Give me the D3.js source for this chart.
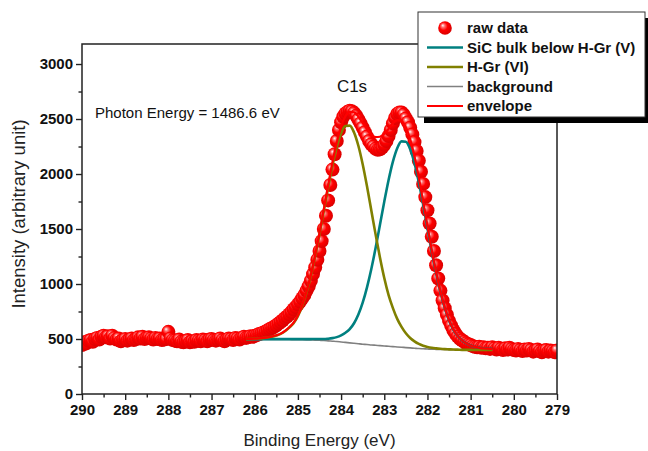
<!DOCTYPE html>
<html>
<head>
<meta charset="utf-8">
<script src="https://cdn.jsdelivr.net/npm/d3@7"></script>
<style>
  body { margin: 0; background: #fff; }
  text { font-family: "Liberation Sans", Arial, sans-serif; }
</style>
</head>
<body>
<svg id="chart" width="648" height="451"></svg>
<script>
// C1s core-level scan: 290 -> 279 eV in 0.05 eV steps
const scanStart = 290, scanStep = 0.05;
const rawCounts = [
  445,470,460,485,490,475,500,510,495,520,
  530,515,525,505,530,510,495,505,480,490,
  500,485,495,505,490,500,515,505,520,500,
  510,515,505,495,510,500,505,490,495,500,
  565,505,490,485,480,495,475,470,480,490,
  470,480,475,490,485,480,495,490,480,495,
  500,490,485,495,505,490,480,495,505,500,
  490,510,505,495,510,520,510,515,525,520,
  530,
  535,545,550,560,565,580,590,600,610,625,
  640,655,670,690,705,725,745,770,790,815,
  840,870,900,940,980,1030,1090,1150,1220,1300,
  1390,1500,1620,1760,1900,2040,2180,2300,2400,2470,
  2520,2550,2565,2575,2570,2555,2530,2495,2460,2420,
  2380,2340,2300,2270,2250,2230,2220,2225,2240,2265,
  2300,2345,2400,2460,2510,2545,2560,2560,2540,2505,
  2470,2420,2360,2290,2210,2120,2020,1910,1790,1670,
  1550,1430,1300,1170,1050,940,850,780,720,665,
  620,580,548,522,502,488,474,462,452,445,
  435,430,425,430,420,425,415,420,410,425,
  415,405,420,410,400,415,405,420,410,400,
  395,410,400,390,405,395,410,400,385,395,
  405,390,380,395,400,385,395,390,380,395
];

// Fit grid (eV) and fitted components
const fitEnergy = [
  286.2,286.1,286.0,285.9,285.8,285.7,285.6,285.5,285.4,285.3,
  285.2,285.1,285.0,284.9,284.8,284.7,284.6,284.5,284.4,284.3,
  284.2,284.1,284.0,283.9,283.8,283.7,283.6,283.5,283.4,283.3,
  283.2,283.1,283.0,282.9,282.8,282.7,282.6,282.5,282.4,282.3,
  282.2,282.1,282.0,281.9,281.8,281.7,281.6,281.5,281.4,281.3,
  281.2,281.1,281.0,280.9,280.8,280.7,280.6,280.5
];
const background = [
  497,497,497,497,497,497,496,496,496,495,
  495,494,494,493,492,491,490,488,486,483,
  480,477,473,469,465,461,457,453,450,446,
  443,440,437,434,431,428,425,422,419,416,
  413,411,409,407,406,405,404,403,402,402,
  401,401,401,400,400,400,400,400
];
// peak heights above the background
const peakHGr = [
  2,3,5,7,11,16,24,35,50,75,
  108,150,214,309,432,583,762,964,1180,1395,
  1598,1770,1898,1968,1975,1917,1800,1636,1438,1223,
  1006,801,617,465,350,255,185,130,90,62,
  42,28,19,13,9,6,4,3,2,1,
  0,0,0,0,0,0,0,0
];
const peakSiC = [
  1,1,1,2,2,2,3,3,3,4,
  4,5,5,6,7,8,10,12,14,20,
  28,40,60,88,125,182,265,377,520,691,
  886,1098,1312,1512,1682,1807,1872,1872,1807,1682,
  1512,1312,1098,886,691,520,377,265,182,125,
  88,60,40,28,20,14,12,10
];

const xTicks = [290,289,288,287,286,285,284,283,282,281,280,279];
const xMinor = [289.5,288.5,287.5,286.5,285.5,284.5,283.5,282.5,281.5,280.5,279.5];
const yTicks = [0,500,1000,1500,2000,2500,3000];
const yMinor = [250,750,1250,1750,2250,2750];

const legendItems = [
  { label: "raw data", kind: "dot", color: "#ff0000" },
  { label: "SiC bulk below H-Gr (V)", kind: "line", color: "#008080", width: 2.6 },
  { label: "H-Gr (VI)", kind: "line", color: "#808000", width: 2.6 },
  { label: "background", kind: "line", color: "#808080", width: 1.6 },
  { label: "envelope", kind: "line", color: "#ff0000", width: 2.2 }
];

const svg = d3.select("#chart");
const L = 82, R = 557, T = 44, B = 394;

const x = d3.scaleLinear().domain([290, 279]).range([L, R]);
const y = d3.scaleLinear().domain([0, 3182]).range([B, T]);

const defs = svg.append("defs");
defs.append("clipPath").attr("id", "plotClip")
  .append("rect").attr("x", L).attr("y", T).attr("width", R - L).attr("height", B - T);
const grad = defs.append("radialGradient").attr("id", "ball")
  .attr("cx", "0.45").attr("cy", "0.45").attr("r", "0.6")
  .attr("fx", "0.33").attr("fy", "0.3");
grad.append("stop").attr("offset", "0%").attr("stop-color", "#ffffff");
grad.append("stop").attr("offset", "22%").attr("stop-color", "#ff7070");
grad.append("stop").attr("offset", "50%").attr("stop-color", "#ff0000");
grad.append("stop").attr("offset", "100%").attr("stop-color", "#d40000");

// raw data
const raw = rawCounts.map((v, i) => ({ e: scanStart - i * scanStep, v }));
const plot = svg.append("g").attr("clip-path", "url(#plotClip)");
plot.selectAll("circle.raw").data(raw).join("circle")
  .attr("class", "raw")
  .attr("cx", d => x(d.e)).attr("cy", d => y(d.v)).attr("r", 7)
  .attr("fill", "url(#ball)");

// fitted curves
const fit = fitEnergy.map((e, i) => ({
  e,
  bg: background[i],
  sic: background[i] + peakSiC[i],
  hgr: background[i] + peakHGr[i],
  env: background[i] + peakSiC[i] + peakHGr[i]
}));
const line = key => d3.line().x(d => x(d.e)).y(d => y(d[key])).curve(d3.curveMonotoneX);
plot.append("path").datum(fit).attr("d", line("bg"))
  .attr("fill", "none").attr("stroke", "#808080").attr("stroke-width", 1.6);
plot.append("path").datum(fit).attr("d", line("sic"))
  .attr("fill", "none").attr("stroke", "#008080").attr("stroke-width", 2.6);
plot.append("path").datum(fit).attr("d", line("hgr"))
  .attr("fill", "none").attr("stroke", "#808000").attr("stroke-width", 2.6);
plot.append("path").datum(fit).attr("d", line("env"))
  .attr("fill", "none").attr("stroke", "#ff0000").attr("stroke-width", 2.2);

// axes
const axisColor = "#222";
svg.append("g").attr("transform", `translate(0,${B})`)
  .call(d3.axisBottom(x).tickValues(xTicks).tickSize(6).tickPadding(4).tickFormat(d3.format("d")));
svg.append("g").attr("transform", `translate(0,${B})`)
  .call(d3.axisBottom(x).tickValues(xMinor).tickSize(3.5).tickFormat(""));
svg.append("g").attr("transform", `translate(${L},0)`)
  .call(d3.axisLeft(y).tickValues(yTicks).tickSize(6).tickPadding(3).tickFormat(d3.format("d")));
svg.append("g").attr("transform", `translate(${L},0)`)
  .call(d3.axisLeft(y).tickValues(yMinor).tickSize(3.5).tickFormat(""));
svg.selectAll(".domain").remove();
svg.selectAll(".tick line").attr("stroke", axisColor).attr("stroke-width", 1.4);
svg.selectAll(".tick text")
  .attr("font-family", "'Liberation Sans', Arial, sans-serif")
  .attr("font-size", 15).attr("font-weight", "bold").attr("fill", "#111");

// frame
svg.append("rect").attr("x", L).attr("y", T).attr("width", R - L).attr("height", B - T)
  .attr("fill", "none").attr("stroke", axisColor).attr("stroke-width", 1.5);

// titles and annotations
svg.append("text").attr("x", (L + R) / 2).attr("y", 446).attr("text-anchor", "middle")
  .attr("font-size", 17).attr("fill", "#222").text("Binding Energy (eV)");
svg.append("text").attr("transform", `translate(25,214) rotate(-90)`)
  .attr("text-anchor", "middle").attr("font-size", 18.5).attr("fill", "#222")
  .text("Intensity (arbitrary unit)");
svg.append("text").attr("x", 95).attr("y", 118).attr("font-size", 15).attr("fill", "#111")
  .text("Photon Energy = 1486.6 eV");
svg.append("text").attr("x", 352).attr("y", 92).attr("text-anchor", "middle")
  .attr("font-size", 17).attr("fill", "#111").text("C1s");

// legend
const lg = { x: 418, y: 12, w: 227, h: 105, sh: 6 };
const legend = svg.append("g");
legend.append("rect").attr("x", lg.x + lg.sh).attr("y", lg.y + lg.sh)
  .attr("width", lg.w).attr("height", lg.h).attr("fill", "#000");
legend.append("rect").attr("x", lg.x).attr("y", lg.y).attr("width", lg.w).attr("height", lg.h)
  .attr("fill", "#fff").attr("stroke", "#333").attr("stroke-width", 1);
legendItems.forEach((it, i) => {
  const cy = 28 + i * 19.5;
  if (it.kind === "dot") {
    legend.append("circle").attr("cx", 445).attr("cy", cy).attr("r", 6.8).attr("fill", "url(#ball)");
  } else {
    legend.append("line").attr("x1", 427).attr("x2", 463).attr("y1", cy).attr("y2", cy)
      .attr("stroke", it.color).attr("stroke-width", it.width);
  }
  legend.append("text").attr("x", 467).attr("y", cy + 5).attr("font-size", 15)
    .attr("font-weight", "bold").attr("fill", "#111").text(it.label);
});
</script>
</body>
</html>
